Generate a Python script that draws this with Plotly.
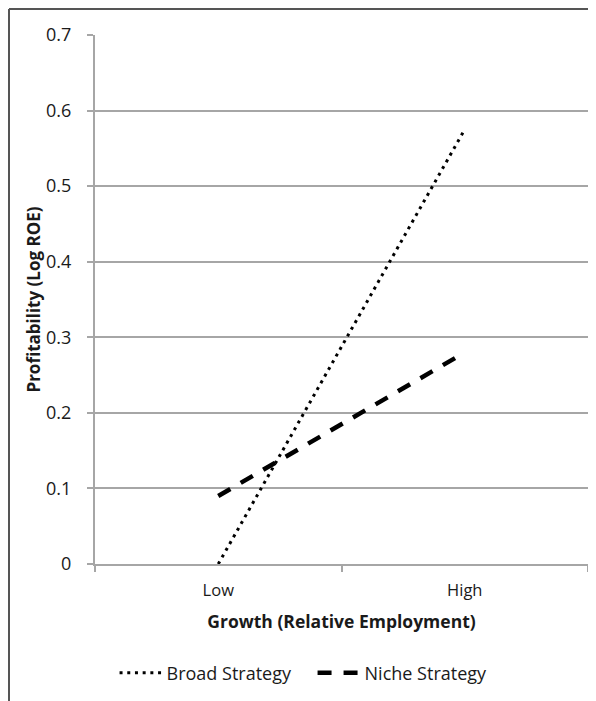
import plotly.graph_objects as go

categories = ["Low", "High"]
broad_values = [0.0, 0.575]
niche_values = [0.09, 0.28]
y_ticks = [0, 0.1, 0.2, 0.3, 0.4, 0.5, 0.6, 0.7]
y_tick_labels = ["0", "0.1", "0.2", "0.3", "0.4", "0.5", "0.6", "0.7"]

FONT = "Open Sans, Noto Sans, sans-serif"
GRID = "#a6a6a6"
TXT = "#1a1a1a"

# page body adds an 8px offset; plot area chosen so it lands where the reference has it
L, R, T, B = 87, 16, 27, 145
W, H = 596, 701
PW = W - L - R
PH = H - T - B

fig = go.Figure()
fig.add_trace(go.Scatter(
    x=categories, y=broad_values, mode="lines", name="Broad Strategy",
    line=dict(color="black", width=3, dash="3px,4.7px"),
))
fig.add_trace(go.Scatter(
    x=categories, y=niche_values, mode="lines", name="Niche Strategy",
    line=dict(color="black", width=4.5, dash="14px,12px"),
))

fig.update_layout(
    width=W, height=H,
    margin=dict(l=L, r=R, t=T, b=B),
    paper_bgcolor="white", plot_bgcolor="white",
    font=dict(family=FONT, color=TXT, size=16),
    showlegend=True,
    legend=dict(
        orientation="h", xref="container", yref="container",
        x=0.511, xanchor="center", y=1 - 665 / H, yanchor="middle",
        font=dict(size=18, family=FONT, color=TXT),
        itemwidth=42, traceorder="normal", tracegroupgap=0,
        entrywidth=141, entrywidthmode="pixels",
    ),
    xaxis=dict(
        type="category", range=[-0.5, 1.5], automargin=False,
        tickson="boundaries", ticks="outside", ticklen=6, tickwidth=2, tickcolor=GRID,
        showline=True, linecolor=GRID, linewidth=2,
        showgrid=False, zeroline=False, ticklabelstandoff=10,
        tickfont=dict(size=16.5, family=FONT, color=TXT),
        title=dict(text="<b>Growth (Relative Employment)</b>", font=dict(size=17.5, family=FONT, color=TXT), standoff=16),
    ),
    yaxis=dict(
        range=[0, 0.7], tickvals=y_ticks, ticktext=y_tick_labels, automargin=False,
        ticks="outside", ticklen=6, tickwidth=2, tickcolor=GRID,
        showline=True, linecolor=GRID, linewidth=2,
        showgrid=True, gridcolor=GRID, gridwidth=2,
        zeroline=False, ticklabelstandoff=12,
        tickfont=dict(size=18, family=FONT, color=TXT),
        title=dict(text="<b>Profitability (Log ROE)</b>", font=dict(size=17, family=FONT, color=TXT), standoff=1),
    ),
)

# figure frame lines (top and left)
fx = (1 - L) / PW
fy = 1 + (T - 1) / PH
fig.add_shape(type="line", xref="paper", yref="paper", x0=fx, x1=(W - L) / PW, y0=fy, y1=fy,
              line=dict(color="#555555", width=2))
fig.add_shape(type="line", xref="paper", yref="paper", x0=fx, x1=fx, y0=fy, y1=-B / PH,
              line=dict(color="#555555", width=2))

fig.write_html("out.html")
